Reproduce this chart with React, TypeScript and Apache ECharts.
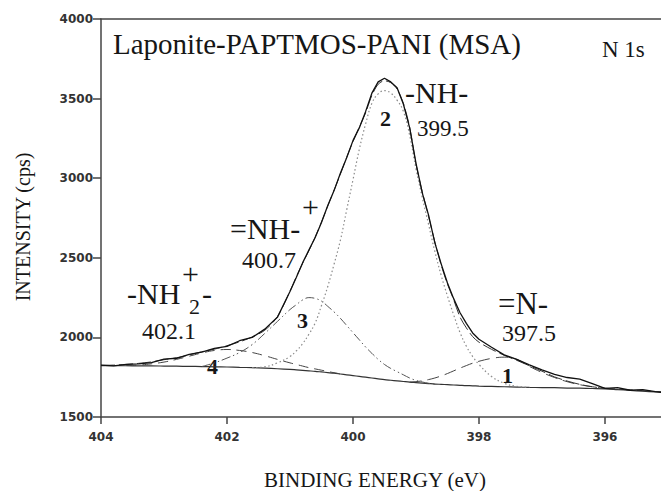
import React, { useEffect, useRef } from "react";
import * as echarts from "echarts";

// Binding energy grid (eV)
const energy = [
  404.0, 403.8, 403.6, 403.4, 403.2, 403.0, 402.8, 402.6, 402.4, 402.2, 402.0, 401.8, 401.6, 401.4, 401.2, 401.0,
  400.9, 400.8, 400.7, 400.6, 400.5, 400.4, 400.3, 400.2, 400.1, 400.0,
  399.9, 399.8, 399.7, 399.6, 399.5, 399.4, 399.3, 399.2, 399.1, 399.0,
  398.9, 398.8, 398.7, 398.6, 398.5, 398.4, 398.3, 398.2, 398.1, 398.0,
  397.8, 397.6, 397.4, 397.2, 397.0, 396.8, 396.6, 396.4, 396.2, 396.0, 395.8, 395.6, 395.4, 395.2,
  395.1,
];

// Measured spectrum (cps)
const measured = [
  1826, 1821, 1831, 1834, 1842, 1863, 1869, 1894, 1907, 1931, 1944, 1979, 2000, 2052, 2126, 2288,
  2376, 2468, 2548, 2628, 2722, 2828, 2922, 3031, 3128, 3236,
  3316, 3418, 3534, 3605, 3628, 3605, 3568, 3466, 3316, 3094,
  2908, 2768, 2594, 2462, 2342, 2242, 2155, 2088, 2028, 1988,
  1938, 1890, 1862, 1828, 1796, 1768, 1748, 1738, 1710, 1680, 1685, 1668, 1672, 1659,
  1655,
];

// Fitted envelope (cps)
const envelope = [
  1824, 1826, 1830, 1837, 1846, 1860, 1872, 1890, 1910, 1926, 1948, 1972, 2003, 2045, 2130, 2290,
  2380, 2465, 2545, 2630, 2725, 2825, 2925, 3025, 3131, 3230,
  3320, 3410, 3520, 3590, 3612, 3600, 3560, 3470, 3320, 3090,
  2915, 2760, 2600, 2455, 2335, 2235, 2127, 2060, 2005, 1970,
  1925, 1888, 1856, 1822, 1788, 1752, 1726, 1705, 1690, 1681, 1675, 1670, 1665, 1660,
  1657,
];

// Background (cps)
const background = [
  1822, 1822, 1822, 1821, 1821, 1820, 1819, 1818, 1817, 1815, 1814, 1812, 1810, 1807, 1803, 1799,
  1796, 1793, 1790, 1787, 1783, 1779, 1775, 1770, 1765, 1760,
  1755, 1750, 1745, 1740, 1735, 1731, 1727, 1723, 1719, 1716,
  1713, 1710, 1707, 1705, 1703, 1701, 1699, 1697, 1696, 1694,
  1692, 1690, 1688, 1686, 1685, 1684, 1682, 1681, 1679, 1677, 1672, 1667, 1662, 1658,
  1656,
];

// Component 1: =N- (397.5 eV)
const peak1 = [
  null, null, null, null, null, null, null, null, null, null, null, null, null, null, null, null,
  null, null, null, null, null, null, null, null, null, null,
  null, null, null, null, null, null, null, null, 1720, 1722,
  1727, 1735, 1745, 1758, 1773, 1790, 1807, 1823, 1838, 1850,
  1868, 1876, 1862, 1818, 1780, 1748, 1722, 1703, 1690, 1680, null, null, null, null,
  null,
];

// Component 2: -NH- (399.5 eV)
const peak2 = [
  null, null, null, null, null, null, null, null, null, null, null, null, 1810, 1815, 1840, 1880,
  1915, 1960, 2020, 2090, 2200, 2320, 2460, 2610, 2800, 2990,
  3180, 3340, 3470, 3530, 3550, 3535, 3490, 3420, 3270, 3060,
  2880, 2710, 2540, 2390, 2260, 2140, 2030, 1945, 1880, 1830,
  1755, 1712, 1693, 1686, null, null, null, null, null, null, null, null, null, null,
  null,
];

// Component 3: =NH+- (400.7 eV)
const peak3 = [
  null, null, null, null, null, null, null, null, 1817, 1840, 1870, 1905, 1955, 2025, 2100, 2175,
  2205, 2235, 2250, 2245, 2228, 2195, 2160, 2120, 2075, 2030,
  1985, 1940, 1900, 1862, 1830, 1805, 1785, 1765, 1745, 1730,
  1720, 1712, 1707, null, null, null, null, null, null, null,
  null, null, null, null, null, null, null, null, null, null, null, null, null, null,
  null,
];

// Component 4: -NH2+- (402.1 eV)
const peak4 = [
  null, null, 1823, 1826, 1834, 1845, 1862, 1882, 1902, 1918, 1924, 1918, 1905, 1885, 1862, 1840,
  1830, 1820, 1810, 1802, 1794, 1786, 1778, 1771, null, null,
  null, null, null, null, null, null, null, null, null, null,
  null, null, null, null, null, null, null, null, null, null,
  null, null, null, null, null, null, null, null, null, null, null, null, null, null,
  null,
];

const xTicks = [404, 402, 400, 398, 396];

const SERIF_NAME = "Liberation Serif";
const INK = "#161616";

function pairs(values: (number | null)[]) {
  return energy.map((e, i) => [e, values[i] === null ? "-" : values[i]]);
}

// graphic text label: x = left edge, cy = vertical centre
function txt(text: string, x: number, cy: number, size: number, bold = false) {
  const style: any = {
    text,
    fill: INK,
    fontFamily: "serif",
    fontSize: size,
    align: "left",
    verticalAlign: "middle",
  };
  if (bold) style.fontWeight = 700;
  return { type: "text", x, y: cy, silent: true, style };
}

export default function App() {
  const ref = useRef<HTMLDivElement>(null);

  useEffect(() => {
    if (!ref.current) return;
    const chart = echarts.init(ref.current, null, { renderer: "svg" });
    const tickLabel = {
      fontFamily: "DejaVu Sans",
      fontWeight: "bold",
      fontSize: 12,
      color: "#333",
      formatter: (v: number) => String(v),
    };
    const axisLine = { show: true, lineStyle: { color: "#444", width: 1.5 } };
    chart.setOption({
      animation: false,
      backgroundColor: "#fff",
      grid: {
        left: 101,
        top: 19,
        right: 0,
        bottom: 74,
        containLabel: false,
        outerBoundsMode: "none",
      },
      xAxis: [
        {
          type: "value",
          inverse: true,
          min: 395.11,
          max: 404,
          position: "bottom",
          name: "BINDING ENERGY (eV)",
          nameLocation: "middle",
          nameGap: 52,
          nameTextStyle: {
            fontFamily: SERIF_NAME,
            fontSize: 21,
            lineHeight: 21,
            color: INK,
            padding: [0, 12, 0, 0],
          },
          axisLine,
          axisTick: {
            show: true,
            inside: false,
            length: 7,
            customValues: xTicks,
            lineStyle: { color: "#444", width: 1.5 },
          },
          axisLabel: { ...tickLabel, margin: 14, customValues: xTicks },
          splitLine: { show: false },
        },
        {
          type: "value",
          inverse: true,
          min: 395.11,
          max: 404,
          position: "top",
          axisLine,
          axisTick: { show: false },
          axisLabel: { show: false },
          splitLine: { show: false },
        },
      ],
      yAxis: {
        type: "value",
        min: 1500,
        max: 4000,
        interval: 500,
        name: "INTENSITY (cps)",
        nameLocation: "middle",
        nameRotate: 90,
        nameGap: 68,
        nameTextStyle: {
          fontFamily: SERIF_NAME,
          fontSize: 20,
          color: INK,
          padding: [0, 18, 0, 0],
        },
        axisLine,
        axisTick: {
          show: true,
          inside: false,
          length: 8,
          lineStyle: { color: "#444", width: 1.5 },
        },
        axisLabel: { ...tickLabel, margin: 8 },
        splitLine: { show: false },
      },
      series: [
        {
          name: "Background",
          type: "line",
          data: pairs(background),
          showSymbol: false,
          smooth: 0.3,
          lineStyle: { color: "#333", width: 1.2 },
          z: 2,
        },
        {
          name: "Peak 4",
          type: "line",
          data: pairs(peak4),
          showSymbol: false,
          smooth: 0.4,
          lineStyle: { color: "#444", width: 1, type: [10, 6] },
          z: 3,
        },
        {
          name: "Peak 3",
          type: "line",
          data: pairs(peak3),
          showSymbol: false,
          smooth: 0.4,
          lineStyle: { color: "#555", width: 1, type: [9, 3, 1.5, 3, 1.5, 3] },
          z: 3,
        },
        {
          name: "Peak 2",
          type: "line",
          data: pairs(peak2),
          showSymbol: false,
          smooth: 0.4,
          lineStyle: { color: "#8a8a8a", width: 1.2, type: [1.5, 2.5] },
          z: 3,
        },
        {
          name: "Peak 1",
          type: "line",
          data: pairs(peak1),
          showSymbol: false,
          smooth: 0.4,
          lineStyle: { color: "#444", width: 1, type: [12, 6] },
          z: 3,
        },
        {
          name: "Fit",
          type: "line",
          data: pairs(envelope),
          showSymbol: false,
          smooth: 0.3,
          lineStyle: { color: "#333", width: 1, type: [14, 4] },
          z: 4,
        },
        {
          name: "Measured",
          type: "line",
          data: pairs(measured),
          showSymbol: false,
          lineStyle: { color: "#111", width: 1.3 },
          z: 5,
        },
      ],
      graphic: [
        txt("Laponite-PAPTMOS-PANI (MSA)", 113, 44, 29),
        txt("N 1s", 602, 49, 23),
        txt("-NH-", 405, 92, 30),
        txt("399.5", 417, 128, 23),
        txt("2", 380, 118, 22, true),
        txt("=NH-", 230, 228, 30),
        txt("+", 302, 206, 30),
        txt("400.7", 242, 260, 24),
        txt("-NH", 127, 293, 30),
        txt("2", 189, 306, 22),
        txt("-", 202, 293, 30),
        txt("+", 182, 273, 30),
        txt("402.1", 142, 331, 24),
        txt("3", 297, 320, 22, true),
        txt("4", 207, 366, 22, true),
        txt("=N-", 498, 303, 31),
        txt("397.5", 502, 333, 24),
        txt("1", 502, 375, 22, true),
      ],
    });
    return () => chart.dispose();
  }, []);

  return (
    <div
      ref={ref}
      style={{ position: "fixed", left: 0, top: 0, width: 661, height: 491, background: "#fff" }}
    />
  );
}
